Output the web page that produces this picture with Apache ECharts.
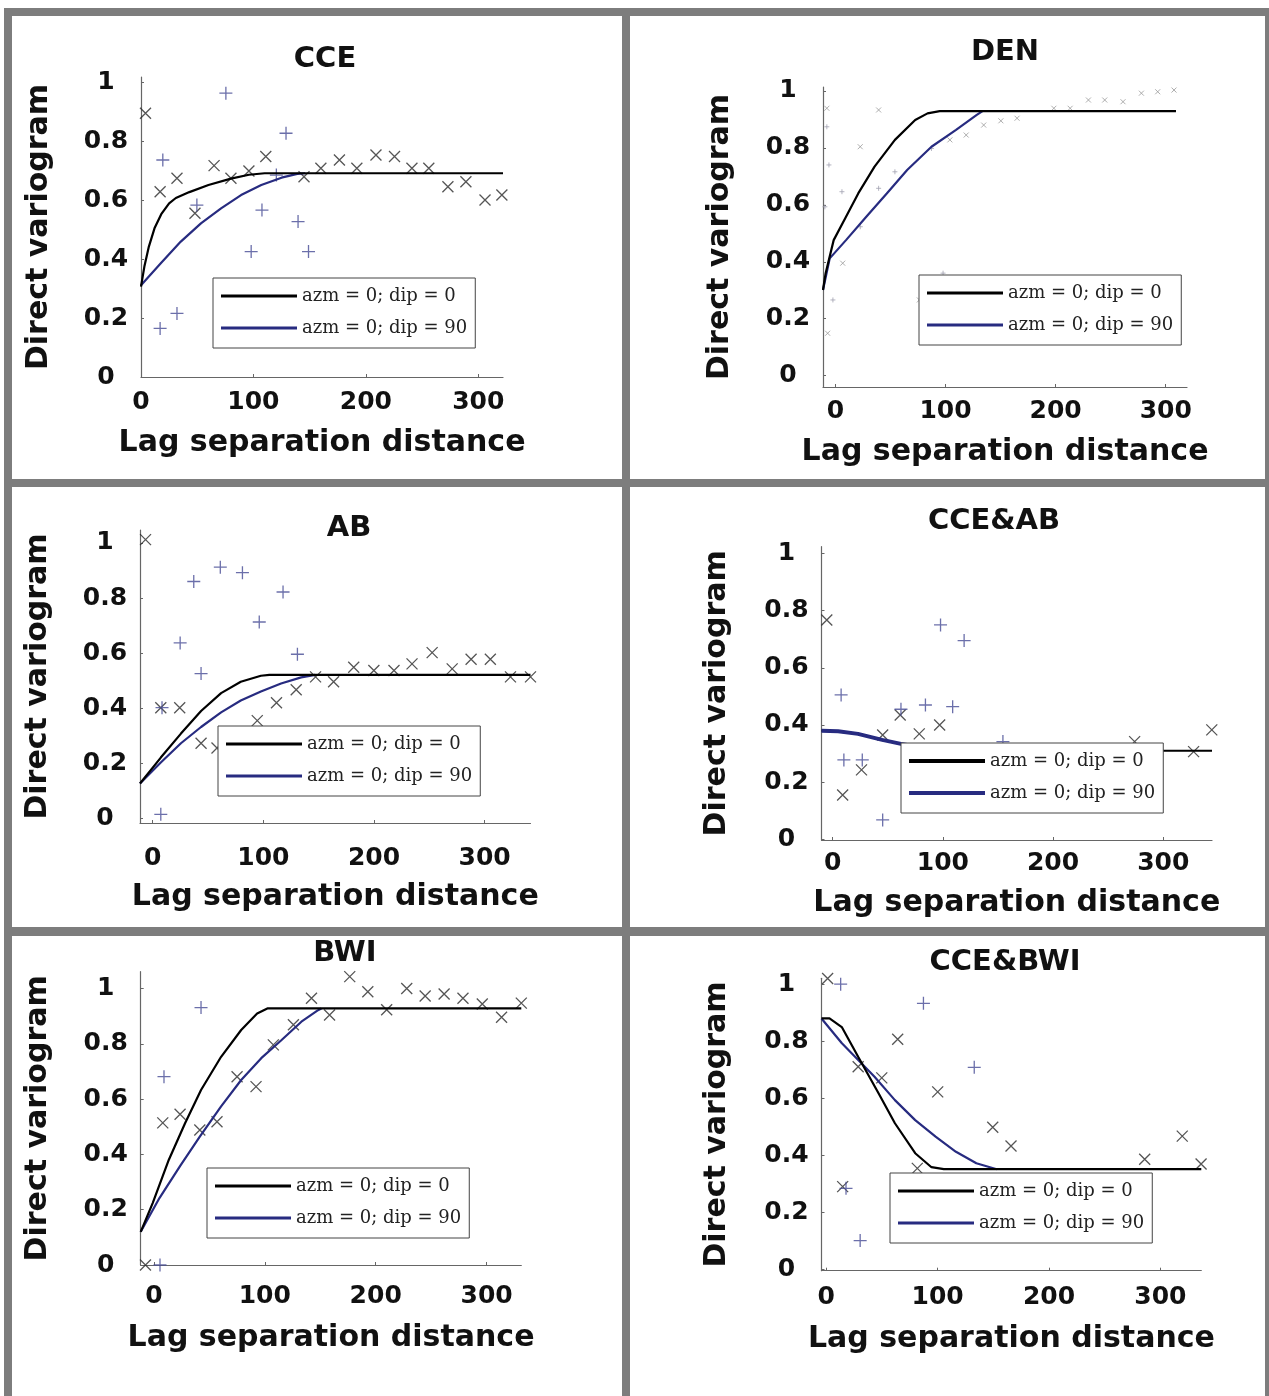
<!DOCTYPE html>
<html>
<head>
<meta charset="utf-8">
<script src="https://cdn.jsdelivr.net/npm/echarts@6/dist/echarts.min.js"></script>
<style>
  html, body { margin: 0; padding: 0; background: #fff; }
  #chart { width: 1269px; height: 1396px; }
</style>
</head>
<body>
<div id="chart"></div>
<script>
// ---- tick labels shared by every panel ----
const lagTicks = [0, 100, 200, 300];
const gammaTicks = [0, 0.2, 0.4, 0.6, 0.8, 1];
const dirNames = ['azm = 0; dip = 0', 'azm = 0; dip = 90'];
const panelTitles = ['CCE', 'DEN', 'AB', 'CCE&AB', 'BWI', 'CCE&BWI'];

// ---- CCE: experimental points [lag, gamma] and fitted models ----
const cceExp0 = [[4,0.896],[17,0.629],[32,0.675],[48,0.556],[65,0.718],[80,0.675],[96,0.70],[111,0.749],[145,0.68],[160,0.709],[176.5,0.737],[192,0.709],[209,0.754],[225.5,0.749],[241,0.709],[256,0.709],[273,0.646],[289,0.663],[306,0.601],[321,0.618]];
const cceExp90 = [[17,0.165],[32,0.216],[19.4,0.737],[49.7,0.584],[75.5,0.964],[98,0.426],[107.6,0.567],[129,0.828],[120.4,0.686],[139.7,0.528],[149,0.426]];
const cceModel0 = [[0,0.307],[3,0.375],[7,0.443],[12,0.505],[18,0.553],[25,0.59],[31,0.608],[43,0.628],[60,0.652],[80,0.674],[96,0.687],[110,0.692],[322,0.692]];
const cceModel90 = [[0,0.312],[17.6,0.386],[35.4,0.46],[53.3,0.522],[71.2,0.573],[89,0.618],[107,0.652],[125,0.677],[139,0.69],[146,0.692]];

// ---- DEN ----
const denExp0 = [[104,0.828],[118.8,0.845],[134.7,0.88],[150.3,0.895],[165,0.904],[198.4,0.939],[213.2,0.939],[229.8,0.968],[244.6,0.968],[261.2,0.962],[277.9,0.992],[292.7,0.997],[307.5,1.003],[-7.7,0.939],[-7,0.149],[6.7,0.395],[22.6,0.804],[39.3,0.933],[76.3,0.266]];
const denExp90 = [[-7.7,0.874],[-5.8,0.74],[-9.5,0.593],[-2.2,0.266],[6,0.646],[22.6,0.523],[39.3,0.658],[54.1,0.716],[87.3,0.798],[97.8,0.36]];
const denModel0 = [[-11.2,0.301],[-8.8,0.36],[-1.5,0.476],[9.7,0.558],[20.8,0.64],[35.6,0.734],[54.1,0.828],[72.5,0.898],[83.7,0.921],[94.8,0.929],[309.3,0.929]];
const denModel90 = [[-11.2,0.301],[-5.1,0.412],[9.7,0.476],[28.1,0.558],[46.7,0.64],[65.2,0.722],[87.3,0.804],[109.6,0.863],[128.1,0.915],[133.6,0.929]];

// ---- AB ----
const abExp0 = [[-6.5,1.012],[7.3,0.402],[24.4,0.402],[43.7,0.273],[58.1,0.256],[94.5,0.355],[111.9,0.42],[129.7,0.467],[147.2,0.514],[163.5,0.496],[181.7,0.549],[199.9,0.537],[218.1,0.537],[234.4,0.561],[252.6,0.602],[270.7,0.543],[287.8,0.578],[305.2,0.578],[323.4,0.514],[341.5,0.514]];
const abExp90 = [[7.3,0.015],[8.4,0.402],[24.8,0.637],[37.1,0.86],[43.7,0.526],[61.1,0.912],[81.1,0.892],[96.3,0.713],[117.8,0.822],[130.8,0.596]];
const abModel0 = [[-11.5,0.127],[7.3,0.221],[25.5,0.308],[43.7,0.39],[61.8,0.455],[79.6,0.496],[97.8,0.518],[105.4,0.521],[341.5,0.521]];
const abModel90 = [[-11.5,0.127],[7.3,0.203],[25.5,0.273],[43.7,0.332],[61.8,0.385],[79.6,0.428],[97.8,0.461],[116,0.49],[134.2,0.512],[146.9,0.521]];

// ---- CCE&AB ----
const caExp0 = [[-5.3,0.767],[9.1,0.155],[26.2,0.243],[45.4,0.365],[61.3,0.435],[78.6,0.369],[97.1,0.4],[274,0.342],[327.5,0.307],[344,0.383]];
const caExp90 = [[7.7,0.505],[10.2,0.278],[26.9,0.278],[45.4,0.068],[62,0.455],[84.2,0.47],[108.9,0.464],[97.9,0.75],[119.3,0.695],[154.5,0.342]];
const caModel0 = [[-10.1,0.38],[5,0.378],[23,0.369],[45,0.348],[62,0.334],[80,0.322],[100,0.314],[120,0.31],[344.2,0.31]];
const caModel90 = [[-10.1,0.38],[5,0.378],[23,0.369],[45,0.348],[62,0.334],[80,0.322],[100,0.314]];

// ---- BWI ----
const bwiExp0 = [[-7.6,0],[8,0.514],[23.6,0.545],[41.4,0.488],[56.9,0.518],[75,0.681],[92.1,0.645],[107.7,0.796],[125.8,0.869],[142.1,0.965],[158.4,0.904],[176.6,1.043],[192.9,0.988],[209.9,0.923],[228,1.0],[244.6,0.973],[261.7,0.98],[278.7,0.965],[296.1,0.944],[313.5,0.896],[331.3,0.947]];
const bwiExp90 = [[5.5,0],[9.1,0.681],[42.5,0.931]];
const bwiModel0 = [[-11.9,0.12],[-1.1,0.224],[13.4,0.38],[28,0.512],[42.5,0.633],[60.6,0.753],[78.7,0.85],[93.1,0.91],[102.3,0.928],[331.3,0.928]];
const bwiModel90 = [[-11.9,0.12],[5,0.242],[24,0.36],[41.4,0.464],[60.6,0.574],[78.7,0.669],[96.8,0.748],[114.9,0.813],[133,0.88],[147.4,0.92],[151,0.928]];

// ---- CCE&BWI ----
const cbExp0 = [[1.3,1.02],[28.7,0.711],[49.9,0.672],[64.2,0.807],[81.8,0.355],[100.1,0.623],[149.5,0.499],[165.9,0.433],[285.9,0.387],[319.6,0.468],[336.5,0.37],[14.8,0.291]];
const cbExp90 = [[13,1.0],[87.3,0.933],[132.9,0.709],[17.8,0.285],[30.5,0.102]];
const cbModel0 = [[-4.2,0.88],[3,0.88],[14,0.85],[28.7,0.746],[47,0.618],[61.7,0.513],[79.9,0.408],[94.5,0.359],[105.6,0.352],[336.7,0.352]];
const cbModel90 = [[-4.2,0.88],[14.1,0.793],[43.4,0.676],[61.7,0.594],[79.9,0.524],[98.2,0.466],[116.5,0.413],[134.8,0.373],[153.1,0.352]];

// ---- panel layout (pixels) and axis extents ----
const panels = [
  { exp0: cceExp0, exp90: cceExp90, m0: cceModel0, m90: cceModel90,
    grid: [141, 77, 362, 300], x: [0, 322], y: [0, 1.019],
    titleAt: [325, 59], lblGap: 25.5, xNameGap: 66, yNameGap: 102, legendAt: [213, 278] },
  { exp0: denExp0, exp90: denExp90, m0: denModel0, m90: denModel90, faint: true,
    grid: [823, 87, 364, 300], x: [-11.2, 319.3], y: [-0.0397, 1.0137],
    titleAt: [1005, 52.5], lblGap: 24, xNameGap: 65, yNameGap: 103, legendAt: [919, 275] },
  { exp0: abExp0, exp90: abExp90, m0: abModel0, m90: abModel90,
    grid: [140, 530, 390.5, 293], x: [-11.5, 341.5], y: [-0.0165, 1.047],
    titleAt: [349, 528], lblGap: 35, xNameGap: 74, yNameGap: 102, legendAt: [218, 726] },
  { exp0: caExp0, exp90: caExp90, m0: caModel0, m90: caModel90, blueOnTop: true,
    grid: [821.5, 546.7, 390.5, 293.3], x: [-10.1, 344.2], y: [-0.0021, 1.0234],
    titleAt: [994, 521], lblGap: 23, xNameGap: 63, yNameGap: 104, legendAt: [901, 743] },
  { exp0: bwiExp0, exp90: bwiExp90, m0: bwiModel0, m90: bwiModel90,
    grid: [140.7, 971.7, 380.6, 293.3], x: [-11.9, 331.3], y: [0, 1.0608],
    titleAt: [345, 953], lblGap: 31, xNameGap: 73, yNameGap: 102.5, legendAt: [207, 1168] },
  { exp0: cbExp0, exp90: cbExp90, m0: cbModel0, m90: cbModel90,
    grid: [821.5, 978.3, 379.8, 292.4], x: [-4.2, 336.7], y: [-0.0035, 1.0207],
    titleAt: [1005, 962.5], lblGap: 27, xNameGap: 69, yNameGap: 104, legendAt: [890, 1173] }
];

const SANS = 'DejaVu Sans';
const SERIF = 'DejaVu Serif';
const INK = '#111';
const AXIS = '#666';
const BLACK_LINE = '#000';
const BLUE_LINE = '#272b80';
const CROSS = 'path://M0,0L10,10M10,0L0,10';
const PLUS = 'path://M5,0L5,10M0,5L10,5';

const option = {
  animation: false,
  backgroundColor: '#fff',
  title: [], grid: [], xAxis: [], yAxis: [], legend: [], series: [], graphic: []
};

panels.forEach((p, i) => {
  option.title.push({
    text: panelTitles[i], left: p.titleAt[0], top: p.titleAt[1] - 15,
    textAlign: 'center', padding: 0,
    textStyle: { fontFamily: SANS, fontWeight: 'bold', fontSize: 29, lineHeight: 30, color: INK }
  });
  option.grid.push({ left: p.grid[0], top: p.grid[1], width: p.grid[2], height: p.grid[3], containLabel: false });
  option.xAxis.push({
    gridIndex: i, type: 'value', min: p.x[0], max: p.x[1],
    name: 'Lag separation distance', nameLocation: 'middle', nameGap: p.xNameGap,
    nameTextStyle: { fontFamily: SANS, fontWeight: 'bold', fontSize: 30, color: INK, verticalAlign: 'middle' },
    axisLine: { show: true, onZero: false, lineStyle: { color: AXIS, width: 1.2 } },
    axisTick: { show: true, inside: true, length: 3, customValues: lagTicks, lineStyle: { color: AXIS } },
    axisLabel: { customValues: lagTicks, margin: p.lblGap, verticalAlign: 'middle',
      fontFamily: SANS, fontWeight: 'bold', fontSize: 25, color: INK },
    splitLine: { show: false }
  });
  option.yAxis.push({
    gridIndex: i, type: 'value', min: p.y[0], max: p.y[1],
    name: 'Direct variogram', nameLocation: 'middle', nameGap: p.yNameGap, nameRotate: 90,
    nameTextStyle: { fontFamily: SANS, fontWeight: 'bold', fontSize: 30, color: INK, verticalAlign: 'middle' },
    axisLine: { show: true, onZero: false, lineStyle: { color: AXIS, width: 1.2 } },
    axisTick: { show: true, inside: true, length: 3, customValues: gammaTicks, lineStyle: { color: AXIS } },
    axisLabel: { customValues: gammaTicks, margin: 35, align: 'center',
      fontFamily: SANS, fontWeight: 'bold', fontSize: 25, color: INK },
    splitLine: { show: false }
  });
  option.legend.push({
    left: p.legendAt[0], top: p.legendAt[1], orient: 'vertical', z: 10,
    icon: 'rect', itemWidth: 76, itemHeight: i === 3 ? 4 : 3, itemGap: 12,
    padding: [8, 8, 10, 8], borderColor: '#444', borderWidth: 1, backgroundColor: '#fff',
    selectedMode: false, data: dirNames,
    textStyle: { fontFamily: SERIF, fontSize: 18, lineHeight: 20, color: '#222' }
  });

  const faint = !!p.faint;
  option.series.push({
    type: 'scatter', name: 'lag pairs dip 0', xAxisIndex: i, yAxisIndex: i, data: p.exp0,
    symbol: CROSS, symbolSize: faint ? 5 : 11, clip: false, z: 2, silent: true,
    itemStyle: { color: 'transparent', borderColor: faint ? '#9a9a9a' : '#2a2a2a', borderWidth: faint ? 1 : 1.3 }
  });
  option.series.push({
    type: 'scatter', name: 'lag pairs dip 90', xAxisIndex: i, yAxisIndex: i, data: p.exp90,
    symbol: PLUS, symbolSize: faint ? 5 : 13, clip: false, z: 2, silent: true,
    itemStyle: { color: 'transparent', borderColor: faint ? '#a0a0b0' : '#464b95', borderWidth: faint ? 1 : 1.3 }
  });
  option.series.push({
    type: 'line', name: dirNames[1], xAxisIndex: i, yAxisIndex: i, data: p.m90,
    symbol: 'none', clip: false, z: p.blueOnTop ? 4 : 3, silent: true,
    lineStyle: { color: BLUE_LINE, width: p.blueOnTop ? 4 : 2.2 }, itemStyle: { color: BLUE_LINE }
  });
  option.series.push({
    type: 'line', name: dirNames[0], xAxisIndex: i, yAxisIndex: i, data: p.m0,
    symbol: 'none', clip: false, z: p.blueOnTop ? 3 : 4, silent: true,
    lineStyle: { color: BLACK_LINE, width: 2.2 }, itemStyle: { color: BLACK_LINE }
  });
});

// panel frame: gray bands around and between the six panels
const FRAME = '#7d7d7d';
[
  [4, 8, 1265, 8], [4, 8, 8, 1388], [622, 8, 8, 1388],
  [4, 479, 1265, 8], [4, 927, 1265, 9], [1265, 8, 4, 1388]
].forEach(r => option.graphic.push({
  type: 'rect', silent: true, z: 0,
  shape: { x: r[0], y: r[1], width: r[2], height: r[3] }, style: { fill: FRAME }
}));

const chart = echarts.init(document.getElementById('chart'), null, { renderer: 'canvas' });
chart.setOption(option);
</script>
</body>
</html>
